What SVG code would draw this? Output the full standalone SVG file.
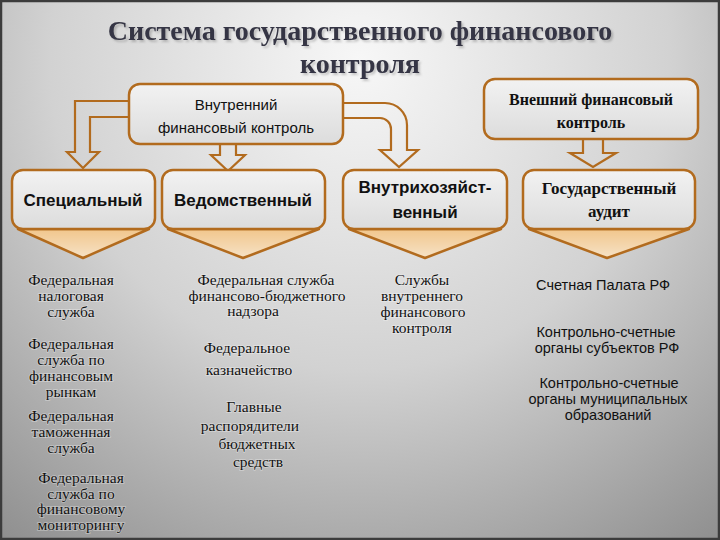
<svg xmlns="http://www.w3.org/2000/svg" width="720" height="540" viewBox="0 0 720 540">
<defs>
  <radialGradient id="bg" cx="360" cy="60" r="620" gradientUnits="userSpaceOnUse">
    <stop offset="0" stop-color="#f7f7f7"/>
    <stop offset="0.5" stop-color="#d2d2d2"/>
    <stop offset="1" stop-color="#8a8a8a"/>
  </radialGradient>
  <linearGradient id="boxfill" x1="0" y1="0" x2="0" y2="1">
    <stop offset="0" stop-color="#f2f2f2"/>
    <stop offset="1" stop-color="#dcdcdc"/>
  </linearGradient>
  <linearGradient id="chev" x1="0" y1="0" x2="0" y2="1">
    <stop offset="0" stop-color="#f1c68c"/>
    <stop offset="1" stop-color="#f6e2c6"/>
  </linearGradient>
  <filter id="shadow" x="-5%" y="-20%" width="110%" height="150%">
    <feGaussianBlur in="SourceAlpha" stdDeviation="1.2"/>
    <feOffset dx="1.5" dy="1.5" result="o"/>
    <feFlood flood-color="#000" flood-opacity="0.2"/>
    <feComposite in2="o" operator="in" result="s"/>
    <feMerge><feMergeNode in="s"/><feMergeNode in="SourceGraphic"/></feMerge>
  </filter>
</defs>
<style>
  .box { fill: url(#boxfill); stroke: #b26b1e; stroke-width: 2.5; }
  .chev { fill: url(#chev); stroke: #b26b1e; stroke-width: 2.5; stroke-linejoin: round; }
  .arrow { fill: none; stroke: #b26b1e; stroke-width: 2.2; stroke-linejoin: miter; }
  .title { font-family: "Liberation Serif", serif; font-weight: bold; font-size: 28px; fill: #363644; text-anchor: middle; }
  .sans { font-family: "Liberation Sans", sans-serif; fill: #111; text-anchor: middle; }
  .serif { font-family: "Liberation Serif", serif; fill: #111; text-anchor: middle; }
  .hdr { font-size: 17px; font-weight: bold; }
  .lst { font-family: "Liberation Serif", serif; font-size: 15.5px; fill: #111; text-anchor: middle; stroke: #ffffff; stroke-opacity: 0.35; stroke-width: 1.5px; paint-order: stroke; }
  .lsans { font-family: "Liberation Sans", sans-serif; font-size: 14.5px; fill: #111; text-anchor: middle; }
</style>
<rect x="0" y="0" width="720" height="540" fill="url(#bg)"/>
<rect x="1" y="1" width="718" height="538" fill="none" stroke="#3c3c3c" stroke-width="2.5"/>

<g id="title" filter="url(#shadow)">
  <text class="title" x="360" y="40">Система государственного финансового</text>
  <text class="title" x="360" y="73">контроля</text>
</g>

<g id="connectors">
  <path class="arrow" d="M129,101 H75 V152 H67 L83,168 L99,152 H90 V117 H129"/>
  <path class="arrow" d="M220,144 V155 H211 L228,171 L245,155 H236 V144"/>
  <path class="arrow" d="M343,103 H385 A22,22 0 0 1 407,125 V150 H418 L399,167 L380,150 H391 V129 A11,11 0 0 0 380,118 H343"/>
  <path class="arrow" d="M583,139 V153 H570 L593,167 L616,153 H603 V139"/>
</g>

<g id="internal">
  <rect class="box" x="129" y="84" width="214" height="60" rx="11"/>
  <text class="sans" x="236" y="110" font-size="15">Внутренний</text>
  <text class="sans" x="236" y="133" font-size="15">финансовый контроль</text>
</g>

<g id="external">
  <rect class="box" x="484" y="79" width="214" height="60" rx="11"/>
  <text class="serif" x="591" y="105" font-size="16" font-weight="bold">Внешний финансовый</text>
  <text class="serif" x="591" y="128" font-size="16" font-weight="bold">контроль</text>
</g>

<g id="special">
  <path class="chev" d="M18,229 H149 L83,258 Z"/>
  <rect class="box" x="12" y="170" width="143" height="59" rx="11"/>
  <text class="sans hdr" x="83" y="206">Специальный</text>
</g>

<g id="vedom">
  <path class="chev" d="M168,229 H319 L243,258 Z"/>
  <rect class="box" x="162" y="170" width="163" height="59" rx="11"/>
  <text class="sans hdr" x="243" y="206">Ведомственный</text>
</g>

<g id="vnutr">
  <path class="chev" d="M349,229 H501 L425,258 Z"/>
  <rect class="box" x="343" y="170" width="164" height="59" rx="11"/>
  <text class="sans hdr" x="425" y="193">Внутрихозяйст-</text>
  <text class="sans hdr" x="425" y="218">венный</text>
</g>

<g id="gosaudit">
  <path class="chev" d="M529,229 H689 L607,258 Z"/>
  <rect class="box" x="523" y="170" width="172" height="59" rx="11"/>
  <text class="serif" x="609" y="194" font-size="17" font-weight="bold">Государственный</text>
  <text class="serif" x="609" y="217" font-size="17" font-weight="bold">аудит</text>
</g>

<g id="list1">
  <text class="lst" x="71" y="285">Федеральная</text>
  <text class="lst" x="71" y="301">налоговая</text>
  <text class="lst" x="71" y="317">служба</text>
  <text class="lst" x="71" y="349">Федеральная</text>
  <text class="lst" x="71" y="365">служба по</text>
  <text class="lst" x="71" y="381">финансовым</text>
  <text class="lst" x="71" y="397">рынкам</text>
  <text class="lst" x="71" y="421">Федеральная</text>
  <text class="lst" x="71" y="437">таможенная</text>
  <text class="lst" x="71" y="453">служба</text>
  <text class="lst" x="81" y="483">Федеральная</text>
  <text class="lst" x="81" y="498.5">служба по</text>
  <text class="lst" x="81" y="514">финансовому</text>
  <text class="lst" x="81" y="529.5">мониторингу</text>
</g>

<g id="list2">
  <text class="lst" x="266" y="285">Федеральная служба</text>
  <text class="lst" x="267" y="300.5">финансово-бюджетного</text>
  <text class="lst" x="253" y="316">надзора</text>
  <text class="lst" x="247" y="353">Федеральное</text>
  <text class="lst" x="249" y="375">казначейство</text>
  <text class="lst" x="254" y="412">Главные</text>
  <text class="lst" x="250" y="431">распорядители</text>
  <text class="lst" x="257" y="449">бюджетных</text>
  <text class="lst" x="258" y="467">средств</text>
</g>

<g id="list3">
  <text class="lst" x="422" y="285">Службы</text>
  <text class="lst" x="422" y="301">внутреннего</text>
  <text class="lst" x="423" y="317">финансового</text>
  <text class="lst" x="422" y="333">контроля</text>
</g>

<g id="list4">
  <text class="lsans" x="603" y="290">Счетная Палата РФ</text>
  <text class="lsans" x="606" y="337">Контрольно-счетные</text>
  <text class="lsans" x="607" y="353">органы субъектов РФ</text>
  <text class="lsans" x="609" y="388">Контрольно-счетные</text>
  <text class="lsans" x="608" y="404">органы муниципальных</text>
  <text class="lsans" x="608" y="420">образований</text>
</g>
</svg>
